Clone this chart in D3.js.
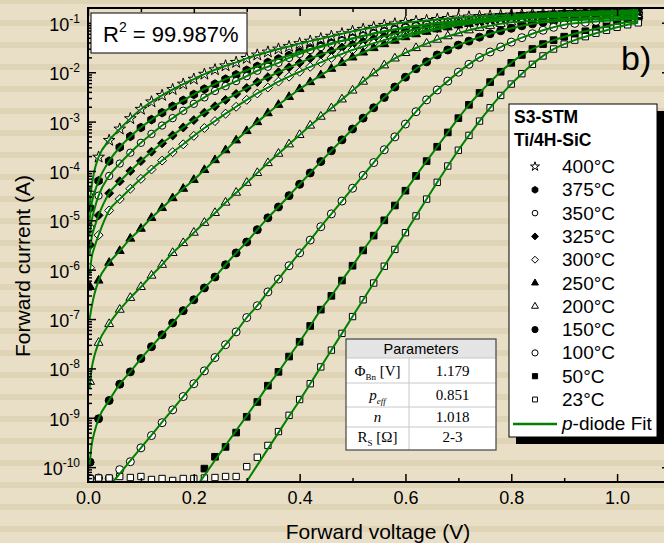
<!DOCTYPE html>
<meta charset="utf-8">
<script src="https://d3js.org/d3.v7.min.js"></script>
<style>
  body { margin: 0; background: #e9dfc7; }
  svg { display: block; }
  text { font-family: "Liberation Sans", Arial, sans-serif; fill: #000; }
</style>
<div id="my_dataviz"></div>
<script>

// measured voltages (V)
var voltage = [0.004,0.02,0.04,0.06,0.08,0.10,0.12,0.14,0.16,0.18,0.20,0.22,0.24,0.26,0.28,0.30,0.32,0.34,0.36,0.38,0.40,0.42,0.44,0.46,0.48,0.50,0.52,0.54,0.56,0.58,0.60,0.62,0.64,0.66,0.68,0.70,0.72,0.74,0.76,0.78,0.80,0.82,0.84,0.86,0.88,0.90,0.92,0.94,0.96,0.98,1.00,1.02,1.04];

var temps = ["400°C","375°C","350°C","325°C","300°C","250°C","200°C","150°C","100°C","50°C","23°C"];

// log10 of forward current (A), one per voltage
var i400 = [-4.45,-3.72,-3.38,-3.15,-2.94,-2.75,-2.60,-2.47,-2.35,-2.24,-2.14,-2.04,-1.95,-1.87,-1.80,-1.72,-1.65,-1.59,-1.53,-1.48,-1.42,-1.37,-1.32,-1.27,-1.22,-1.17,-1.13,-1.09,-1.05,-1.02,-0.99,-0.97,-0.95,-0.93,-0.91,-0.90,-0.88,-0.87,-0.86,-0.85,-0.84,-0.83,-0.82,-0.81,-0.80,-0.79,-0.785,-0.78,-0.77,-0.765,-0.76,-0.75,-0.74];
var i375 = [-4.75,-4.20,-3.80,-3.52,-3.30,-3.12,-2.96,-2.82,-2.69,-2.57,-2.45,-2.34,-2.24,-2.14,-2.05,-1.96,-1.88,-1.80,-1.73,-1.66,-1.59,-1.53,-1.47,-1.41,-1.36,-1.31,-1.26,-1.21,-1.17,-1.13,-1.09,-1.06,-1.03,-1.00,-0.98,-0.96,-0.94,-0.92,-0.905,-0.89,-0.875,-0.86,-0.85,-0.84,-0.83,-0.82,-0.81,-0.80,-0.795,-0.79,-0.78,-0.775,-0.77];
var i350 = [-5.15,-4.50,-4.10,-3.85,-3.63,-3.43,-3.25,-3.08,-2.93,-2.78,-2.64,-2.51,-2.38,-2.28,-2.18,-2.08,-1.97,-1.89,-1.81,-1.71,-1.63,-1.55,-1.49,-1.43,-1.37,-1.32,-1.27,-1.22,-1.18,-1.14,-1.10,-1.07,-1.04,-1.01,-0.99,-0.97,-0.95,-0.93,-0.915,-0.90,-0.89,-0.875,-0.865,-0.855,-0.845,-0.835,-0.825,-0.82,-0.81,-0.805,-0.80,-0.79,-0.785];
var i325 = [-5.50,-4.90,-4.45,-4.21,-4.00,-3.80,-3.61,-3.44,-3.28,-3.12,-2.97,-2.82,-2.69,-2.56,-2.44,-2.32,-2.20,-2.10,-2.00,-1.90,-1.81,-1.72,-1.64,-1.57,-1.50,-1.44,-1.38,-1.32,-1.27,-1.22,-1.17,-1.13,-1.09,-1.06,-1.03,-1.00,-0.98,-0.96,-0.94,-0.92,-0.905,-0.89,-0.875,-0.865,-0.855,-0.845,-0.835,-0.83,-0.82,-0.815,-0.81,-0.80,-0.795];
var i300 = [-5.96,-5.30,-4.80,-4.57,-4.36,-4.16,-3.97,-3.79,-3.62,-3.46,-3.29,-3.13,-2.99,-2.84,-2.70,-2.56,-2.43,-2.31,-2.19,-2.09,-1.99,-1.89,-1.80,-1.71,-1.63,-1.55,-1.48,-1.41,-1.35,-1.29,-1.24,-1.19,-1.15,-1.11,-1.07,-1.04,-1.01,-0.99,-0.97,-0.95,-0.93,-0.915,-0.90,-0.89,-0.88,-0.87,-0.86,-0.85,-0.84,-0.835,-0.83,-0.825,-0.82];
var i250 = [-6.35,-6.22,-5.86,-5.62,-5.37,-5.17,-4.95,-4.75,-4.55,-4.36,-4.18,-3.98,-3.78,-3.58,-3.38,-3.19,-3.01,-2.83,-2.66,-2.50,-2.34,-2.20,-2.06,-1.93,-1.81,-1.70,-1.60,-1.51,-1.43,-1.36,-1.29,-1.23,-1.18,-1.13,-1.09,-1.05,-1.02,-0.99,-0.965,-0.945,-0.925,-0.91,-0.895,-0.885,-0.875,-0.865,-0.855,-0.85,-0.84,-0.835,-0.83,-0.825,-0.82];
var i200 = [-8.27,-7.48,-7.10,-6.81,-6.57,-6.35,-6.12,-5.90,-5.66,-5.46,-5.25,-5.05,-4.85,-4.64,-4.44,-4.24,-4.04,-3.84,-3.65,-3.46,-3.27,-3.08,-2.90,-2.73,-2.55,-2.37,-2.19,-2.02,-1.86,-1.72,-1.61,-1.51,-1.42,-1.34,-1.27,-1.21,-1.15,-1.10,-1.06,-1.02,-0.99,-0.975,-0.96,-0.945,-0.93,-0.92,-0.91,-0.90,-0.89,-0.88,-0.87,-0.865,-0.86];
var i150 = [-9.90,-9.02,-8.65,-8.32,-8.07,-7.80,-7.56,-7.32,-7.08,-6.83,-6.61,-6.37,-6.15,-5.90,-5.66,-5.44,-5.19,-4.95,-4.73,-4.50,-4.27,-4.04,-3.81,-3.59,-3.37,-3.15,-2.93,-2.72,-2.51,-2.30,-2.10,-1.93,-1.79,-1.65,-1.55,-1.45,-1.37,-1.29,-1.22,-1.16,-1.11,-1.06,-1.02,-0.99,-0.97,-0.955,-0.945,-0.935,-0.925,-0.915,-0.905,-0.895,-0.89];
var i100 = [-10.23,-10.22,-10.23,-10.05,-9.89,-9.61,-9.36,-9.10,-8.84,-8.57,-8.31,-8.05,-7.78,-7.52,-7.26,-6.97,-6.73,-6.45,-6.19,-5.92,-5.66,-5.40,-5.13,-4.87,-4.61,-4.35,-4.09,-3.83,-3.57,-3.31,-3.05,-2.80,-2.56,-2.36,-2.18,-2.00,-1.84,-1.70,-1.59,-1.49,-1.39,-1.30,-1.22,-1.15,-1.09,-1.04,-1.01,-0.99,-0.97,-0.955,-0.94,-0.93,-0.92];
var i50 = [null,null,null,null,null,null,null,null,null,null,null,-10.03,-9.79,-9.59,-9.30,-8.98,-8.68,-8.35,-8.07,-7.76,-7.46,-7.14,-6.81,-6.53,-6.22,-5.92,-5.61,-5.31,-5.00,-4.70,-4.40,-4.10,-3.80,-3.51,-3.22,-2.93,-2.66,-2.42,-2.20,-1.99,-1.81,-1.65,-1.53,-1.43,-1.35,-1.28,-1.22,-1.17,-1.12,-1.07,-1.02,-0.99,-0.96];
var i23 = [-10.23,-10.22,-10.22,-10.19,-10.21,-10.19,-10.25,-10.23,-10.27,-10.23,-10.23,-10.22,-10.21,-10.19,-10.19,-9.99,-9.80,-9.56,-9.28,-8.95,-8.63,-8.31,-7.97,-7.63,-7.29,-6.95,-6.61,-6.27,-5.93,-5.59,-5.25,-4.91,-4.57,-4.23,-3.90,-3.58,-3.28,-2.99,-2.72,-2.47,-2.24,-2.03,-1.84,-1.67,-1.53,-1.43,-1.35,-1.28,-1.21,-1.15,-1.09,-1.04,-1.00];

// lower end of each p-diode fit [V, log10 I]; above it the fit follows the data
var fit400 = [[0.003,-4.70],[0.007,-4.30],[0.012,-4.00]];
var fit375 = [[0.003,-5.00],[0.007,-4.65],[0.012,-4.45]];
var fit350 = [[0.003,-5.30],[0.007,-5.00],[0.012,-4.78]];
var fit325 = [[0.003,-5.70],[0.007,-5.35],[0.012,-5.15]];
var fit300 = [[0.003,-6.10],[0.007,-5.75],[0.012,-5.55]];
var fit250 = [[0.003,-7.00],[0.007,-6.75],[0.012,-6.50]];
var fit200 = [[0.003,-8.40],[0.007,-8.00],[0.012,-7.75]];
var fit150 = [[0.003,-9.95],[0.007,-9.55],[0.012,-9.30]];
var fit100 = [[0.048,-10.29],[0.06,-10.13],[0.08,-9.87],[0.10,-9.61],[0.12,-9.35],[0.14,-9.09],[0.16,-8.83]];
var fit50  = [[0.212,-10.29],[0.24,-9.86],[0.26,-9.56],[0.28,-9.26],[0.30,-8.96],[0.32,-8.66]];
var fit23  = [[0.30,-10.29],[0.32,-9.96],[0.34,-9.63],[0.36,-9.30],[0.38,-8.97],[0.40,-8.65]];
var fitFrom = [1,1,1,1,1,1,1,1,9,17,21];

var xTicks = [0.0,0.2,0.4,0.6,0.8,1.0];
var yTicks = [1e-10,1e-9,1e-8,1e-7,1e-6,1e-5,1e-4,1e-3,1e-2,1e-1];
var yTickExp = ["-10","-9","-8","-7","-6","-5","-4","-3","-2","-1"];

var paramRows = [
  [[{t:"Φ"},{t:"Bn",sub:1},{t:" [V]"}], "1.179"],
  [[{t:"p",it:1},{t:"eff",sub:1,it:1}], "0.851"],
  [[{t:"n",it:1}], "1.018"],
  [[{t:"R"},{t:"S",sub:1},{t:" [Ω]"}], "2-3"]
];

var curves = [i400,i375,i350,i325,i300,i250,i200,i150,i100,i50,i23];
var tails = [fit400,fit375,fit350,fit325,fit300,fit250,fit200,fit150,fit100,fit50,fit23];

// marker shapes
var hexagon = { draw: function(c, s) { var r = Math.sqrt(s / 2.598);
  for (var i = 0; i < 6; i++) { var a = Math.PI / 3 * i + Math.PI / 6; if (i) c.lineTo(r*Math.cos(a), r*Math.sin(a)); else c.moveTo(r*Math.cos(a), r*Math.sin(a)); }
  c.closePath(); } };
var rhomb = { draw: function(c, s) { var r = Math.sqrt(s / 2);
  c.moveTo(0,-r); c.lineTo(r,0); c.lineTo(0,r); c.lineTo(-r,0); c.closePath(); } };

var marks = [
  {type: d3.symbolStar, size: 42, fill: "white"},
  {type: hexagon, size: 48, fill: "black"},
  {type: d3.symbolCircle, size: 42, fill: "white"},
  {type: rhomb, size: 40, fill: "black"},
  {type: rhomb, size: 40, fill: "white"},
  {type: d3.symbolTriangle, size: 34, fill: "black"},
  {type: d3.symbolTriangle, size: 34, fill: "white"},
  {type: d3.symbolCircle, size: 50, fill: "black"},
  {type: d3.symbolCircle, size: 50, fill: "white"},
  {type: d3.symbolSquare, size: 44, fill: "black"},
  {type: d3.symbolSquare, size: 40, fill: "white"}
];

var W = 664, H = 543;
var plotL = 88, plotR = 670, plotT = 8, plotB = 482;

var svg = d3.select("#my_dataviz").append("svg").attr("width", W).attr("height", H);

// striped backdrop
svg.append("rect").attr("width", W).attr("height", H).attr("fill", "#e9dfc7");
svg.append("g").selectAll("rect").data(d3.range(-1, 26)).enter().append("rect")
  .attr("x", 0).attr("y", function(d) { return 20 + 22 * d; })
  .attr("width", W).attr("height", 6).attr("fill", "#e0d4b7");

var x = d3.scaleLinear().domain([0, 1.1]).range([plotL, plotR]);
var y = d3.scaleLog().domain([5e-11, 0.2]).range([plotB, plotT]);

svg.append("clipPath").attr("id", "clip").append("rect")
  .attr("x", plotL).attr("y", plotT).attr("width", plotR - plotL).attr("height", plotB - plotT);

var series = temps.map(function(t, s) {
  var pts = [];
  curves[s].forEach(function(v, k) { if (v !== null) pts.push({V: voltage[k], I: Math.pow(10, v)}); });
  var fit = tails[s].map(function(p) { return {V: p[0], I: Math.pow(10, p[1])}; });
  curves[s].slice(fitFrom[s]).forEach(function(v, k) { fit.push({V: voltage[k + fitFrom[s]], I: Math.pow(10, v)}); });
  return {name: t, pts: pts, fit: fit, mark: marks[s]};
});

var plot = svg.append("g").attr("clip-path", "url(#clip)");

series.forEach(function(s) {
  plot.append("g").selectAll("path").data(s.pts).enter().append("path")
    .attr("transform", function(d) { return "translate(" + x(d.V) + "," + y(d.I) + ")"; })
    .attr("d", d3.symbol().type(s.mark.type).size(s.mark.size))
    .attr("fill", s.mark.fill).attr("stroke", "black").attr("stroke-width", 1);
});

var line = d3.line().curve(d3.curveMonotoneX)
  .x(function(d) { return x(d.V); }).y(function(d) { return y(d.I); });

series.forEach(function(s) {
  plot.append("path").datum(s.fit).attr("d", line)
    .attr("fill", "none").attr("stroke", "#008000").attr("stroke-width", 2);
});

// axes, ticks inward
var xMinor = [0.1,0.3,0.5,0.7,0.9];
var yMinor = [];
d3.range(-11, 0).forEach(function(e) { d3.range(2, 10).forEach(function(m) {
  var v = m * Math.pow(10, e); if (v > 5e-11 && v < 0.2) yMinor.push(v); }); });

function tidy(g) { g.select(".domain").remove(); g.selectAll("line").attr("stroke", "black").attr("stroke-width", 1.5); }

svg.append("g").attr("transform", "translate(0," + plotB + ")")
  .call(d3.axisBottom(x).tickValues(xTicks).tickSize(-8).tickPadding(9).tickFormat(d3.format(".1f")))
  .call(tidy)
  .selectAll("text").attr("font-size", 18).attr("font-family", "Liberation Sans, Arial, sans-serif");
svg.append("g").attr("transform", "translate(0," + plotB + ")")
  .call(d3.axisBottom(x).tickValues(xMinor).tickSize(-4).tickFormat("")).call(tidy);
svg.append("g").attr("transform", "translate(0," + plotT + ")")
  .call(d3.axisTop(x).tickValues(xTicks).tickSize(-8).tickFormat("")).call(tidy);
svg.append("g").attr("transform", "translate(0," + plotT + ")")
  .call(d3.axisTop(x).tickValues(xMinor).tickSize(-4).tickFormat("")).call(tidy);

svg.append("g").attr("transform", "translate(" + plotL + ",0)")
  .call(d3.axisLeft(y).tickValues(yTicks).tickSize(-8).tickFormat("")).call(tidy);
svg.append("g").attr("transform", "translate(" + plotL + ",0)")
  .call(d3.axisLeft(y).tickValues(yMinor).tickSize(-4).tickFormat("")).call(tidy);
svg.append("g").attr("transform", "translate(" + plotR + ",0)")
  .call(d3.axisRight(y).tickValues(yTicks).tickSize(-8).tickFormat("")).call(tidy);
svg.append("g").attr("transform", "translate(" + plotR + ",0)")
  .call(d3.axisRight(y).tickValues(yMinor).tickSize(-4).tickFormat("")).call(tidy);

svg.append("rect").attr("x", plotL).attr("y", plotT).attr("width", plotR - plotL).attr("height", plotB - plotT)
  .attr("fill", "none").attr("stroke", "black").attr("stroke-width", 2);

// y tick labels 10^n
var yl = svg.append("g").selectAll("text").data(yTicks).enter().append("text")
  .attr("x", 80).attr("y", function(d) { return y(d) + 8; })
  .attr("text-anchor", "end").attr("font-size", 18);
yl.append("tspan").text("10");
yl.append("tspan").attr("dy", -8).attr("font-size", 12).text(function(d, i) { return yTickExp[i]; });

// axis titles
svg.append("text").attr("x", 378).attr("y", 539).attr("text-anchor", "middle")
  .attr("font-size", 21).text("Forward voltage (V)");
svg.append("text").attr("transform", "translate(30,266) rotate(-90)").attr("text-anchor", "middle")
  .attr("font-size", 21).text("Forward current (A)");

// R^2 box
svg.append("rect").attr("x", 91).attr("y", 13).attr("width", 156).attr("height", 40)
  .attr("fill", "white").attr("stroke", "black").attr("stroke-width", 1);
var r2 = svg.append("text").attr("x", 103).attr("y", 42).attr("font-size", 22);
r2.append("tspan").text("R");
r2.append("tspan").attr("dy", -10).attr("font-size", 14).text("2");
r2.append("tspan").attr("dy", 10).text(" = 99.987%");

svg.append("text").attr("x", 621).attr("y", 70).attr("font-size", 34).text("b)");

// parameters table
var tb = svg.append("g");
var rowY = [358, 383, 407, 427, 450];
tb.append("rect").attr("x", 346).attr("y", 339).attr("width", 150).attr("height", 111).attr("fill", "white");
tb.append("rect").attr("x", 346).attr("y", 339).attr("width", 150).attr("height", 19).attr("fill", "#e4e4e4");
tb.selectAll("line.h").data(rowY.slice(0, 4)).enter().append("line")
  .attr("x1", 346).attr("x2", 496).attr("y1", function(d) { return d; }).attr("y2", function(d) { return d; })
  .attr("stroke", "#c8c8c8").attr("stroke-width", 1);
tb.append("line").attr("x1", 409).attr("x2", 409).attr("y1", 358).attr("y2", 450)
  .attr("stroke", "#c8c8c8").attr("stroke-width", 1);
tb.append("rect").attr("x", 346).attr("y", 339).attr("width", 150).attr("height", 111)
  .attr("fill", "none").attr("stroke", "#444").attr("stroke-width", 1.2);
tb.append("text").attr("x", 421).attr("y", 354).attr("text-anchor", "middle")
  .attr("font-size", 14.5).text("Parameters");
var rowBase = [376, 400, 422, 442];
paramRows.forEach(function(r, i) {
  var t = tb.append("text").attr("x", 377.5).attr("y", rowBase[i]).attr("text-anchor", "middle")
    .attr("font-size", 15).style("font-family", "'Liberation Serif', 'Times New Roman', serif");
  var down = 0;
  r[0].forEach(function(p) {
    var ts = t.append("tspan").text(p.t);
    if (p.it) ts.attr("font-style", "italic");
    if (p.sub && !down) { ts.attr("dy", 4).attr("font-size", 9); down = 1; }
    else if (!p.sub && down) { ts.attr("dy", -4); down = 0; }
  });
  tb.append("text").attr("x", 452.5).attr("y", rowBase[i]).attr("text-anchor", "middle")
    .attr("font-size", 15).style("font-family", "'Liberation Serif', 'Times New Roman', serif").text(r[1]);
});

// legend
var lg = svg.append("g");
lg.append("rect").attr("x", 516).attr("y", 111).attr("width", 148).attr("height", 333).attr("fill", "black");
lg.append("rect").attr("x", 509).attr("y", 104).attr("width", 148).attr("height", 333)
  .attr("fill", "white").attr("stroke", "black").attr("stroke-width", 1);
lg.append("text").attr("x", 514).attr("y", 123).attr("font-size", 17.5).attr("font-weight", "bold").text("S3-STM");
lg.append("text").attr("x", 514).attr("y", 146).attr("font-size", 17.5).attr("font-weight", "bold").text("Ti/4H-SiC");
series.forEach(function(s, i) {
  var by = 173 + 23.3 * i;
  lg.append("path").attr("transform", "translate(535," + (by - 6.5) + ")")
    .attr("d", d3.symbol().type(s.mark.type).size(s.mark.size * 0.6))
    .attr("fill", s.mark.fill).attr("stroke", "black").attr("stroke-width", 1);
  lg.append("text").attr("x", 562).attr("y", by).attr("font-size", 19).text(s.name);
});
lg.append("line").attr("x1", 513).attr("x2", 557).attr("y1", 424).attr("y2", 424)
  .attr("stroke", "#008000").attr("stroke-width", 2.5);
var pf = lg.append("text").attr("x", 562).attr("y", 430).attr("font-size", 19);
pf.append("tspan").attr("font-style", "italic").text("p");
pf.append("tspan").text("-diode Fit");

</script>
